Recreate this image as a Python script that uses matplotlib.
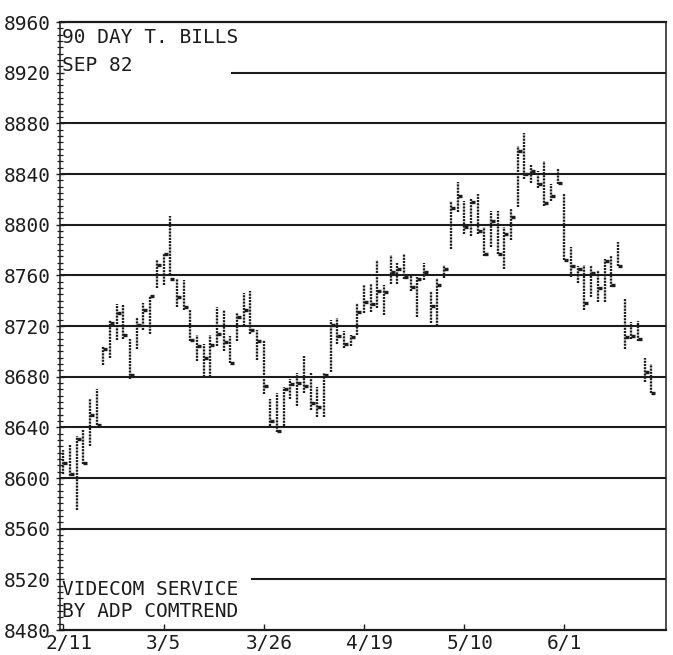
import numpy as np
import matplotlib
matplotlib.use("Agg")
import matplotlib.pyplot as plt
from matplotlib.ticker import MultipleLocator
from matplotlib.transforms import ScaledTranslation

# ---- data (price x 100) ----
highs = [8622, 8626, 8633, 8639, 8662, 8670, 8704, 8725, 8737, 8737,
         8710, 8727, 8738, 8744, 8772, 8778, 8807, 8757, 8756, 8733,
         8713, 8706, 8713, 8735, 8733, 8712, 8730, 8746, 8748, 8717,
         8709, 8662, 8667, 8672, 8678, 8683, 8696, 8683, 8672, 8683,
         8725, 8726, 8716, 8713, 8738, 8752, 8753, 8772, 8752, 8776,
         8770, 8777, 8761, 8759, 8770, 8748, 8758, 8768, 8819, 8834,
         8819, 8820, 8824, 8798, 8811, 8811, 8798, 8812, 8862, 8872,
         8847, 8842, 8850, 8832, 8845, 8825, 8782, 8767, 8768, 8768,
         8764, 8773, 8775, 8786, 8742, 8723, 8724, 8695, 8690]
lows = [8603, 8599, 8575, 8611, 8625, 8642, 8689, 8695, 8709, 8710,
        8678, 8702, 8717, 8714, 8750, 8752, 8760, 8735, 8733, 8708,
        8692, 8680, 8680, 8704, 8700, 8691, 8708, 8720, 8714, 8693,
        8666, 8641, 8636, 8641, 8662, 8657, 8667, 8654, 8648, 8648,
        8684, 8706, 8703, 8704, 8713, 8730, 8731, 8734, 8729, 8753,
        8753, 8757, 8748, 8727, 8756, 8722, 8720, 8758, 8781, 8810,
        8793, 8791, 8793, 8775, 8782, 8777, 8765, 8788, 8814, 8836,
        8833, 8829, 8815, 8819, 8832, 8772, 8759, 8754, 8733, 8743,
        8739, 8739, 8751, 8767, 8702, 8710, 8708, 8676, 8667]
closes = [8612, 8603, 8631, 8612, 8650, 8642, 8702, 8722, 8730, 8713,
          8681, 8721, 8733, 8744, 8768, 8777, 8757, 8743, 8735, 8709,
          8704, 8695, 8705, 8714, 8707, 8691, 8727, 8733, 8717, 8708,
          8673, 8645, 8637, 8670, 8674, 8675, 8673, 8659, 8656, 8681,
          8721, 8712, 8706, 8711, 8731, 8739, 8737, 8748, 8747, 8763,
          8765, 8759, 8751, 8757, 8763, 8736, 8752, 8765, 8813, 8823,
          8798, 8818, 8795, 8777, 8803, 8777, 8793, 8806, 8858, 8840,
          8842, 8832, 8817, 8823, 8833, 8772, 8767, 8765, 8738, 8762,
          8750, 8771, 8752, 8767, 8711, 8712, 8710, 8684, 8667]
date_labels = ["2/11", "3/5", "3/26", "4/19", "5/10", "6/1"]
date_label_bars = [0, 15, 30, 45, 60, 75]
y_ticks = list(range(8480, 8961, 40))
title_lines = ["90 DAY T. BILLS", "SEP 82"]
footer_lines = ["VIDECOM SERVICE", "BY ADP COMTREND"]

ink = "#1c1c1c"
font = "DejaVu Sans Mono"
fs = 14

fig = plt.figure(figsize=(6.73, 6.55), dpi=100)
ax = fig.add_axes([60 / 673, 25 / 655, 606 / 673, 608 / 655])

x = np.arange(len(highs))
# high-low bars (dot-matrix look)
ax.vlines(x, lows, highs, colors=ink, linewidth=1.7, linestyles=(0, (0.9, 0.45)))
# close ticks to the right
ax.hlines(closes, x, x + 0.6, colors=ink, linewidth=2.4)

ax.set_xlim(-0.49, 90.2)
ax.set_ylim(8480, 8960)

# horizontal rules
for yv in y_ticks[1:-1]:
    xmin = 0.0
    if yv == 8920:
        xmin = 0.284
    elif yv == 8520:
        xmin = 0.317
    ax.axhline(yv, xmin=xmin, xmax=1, color=ink, linewidth=1.5)

# spines
for s in ["left", "right"]:
    ax.spines[s].set_linestyle((0, (1, 1)))
    ax.spines[s].set_linewidth(1.1)
    ax.spines[s].set_color(ink)
ax.spines["top"].set_linewidth(1.6)
ax.spines["top"].set_color(ink)
ax.spines["bottom"].set_linewidth(1.6)
ax.spines["bottom"].set_color(ink)

# y ticks
ax.set_yticks(y_ticks)
ax.set_yticklabels([str(v) for v in y_ticks], fontfamily=font, fontsize=fs, color=ink)
ax.yaxis.set_minor_locator(MultipleLocator(5))
ax.tick_params(axis="y", which="major", direction="inout", length=6, width=1.0,
               color=ink, pad=4)
ax.tick_params(axis="y", which="minor", direction="inout", length=4, width=0.9, color=ink)

# x ticks
ax.set_xticks(date_label_bars)
ax.set_xticklabels(date_labels, fontfamily=font, fontsize=fs, color=ink, ha="left")
ax.tick_params(axis="x", which="major", direction="in", length=4, width=1.0,
               color=ink, pad=3)
offset = ScaledTranslation(-17.5 / 100, 0, fig.dpi_scale_trans)
for lab in ax.get_xticklabels():
    lab.set_transform(lab.get_transform() + offset)
ax.tick_params(axis="y", which="both", right=False)

# annotations
for k, line in enumerate(title_lines):
    ax.text(0.004, 0.974 - k * 0.045, line, transform=ax.transAxes, fontfamily=font,
            fontsize=fs, color=ink, va="center", ha="left")
for k, line in enumerate(footer_lines):
    ax.text(0.004, 0.066 - k * 0.035, line, transform=ax.transAxes, fontfamily=font,
            fontsize=fs, color=ink, va="center", ha="left")

fig.savefig("out.png", dpi=100, facecolor="white")
